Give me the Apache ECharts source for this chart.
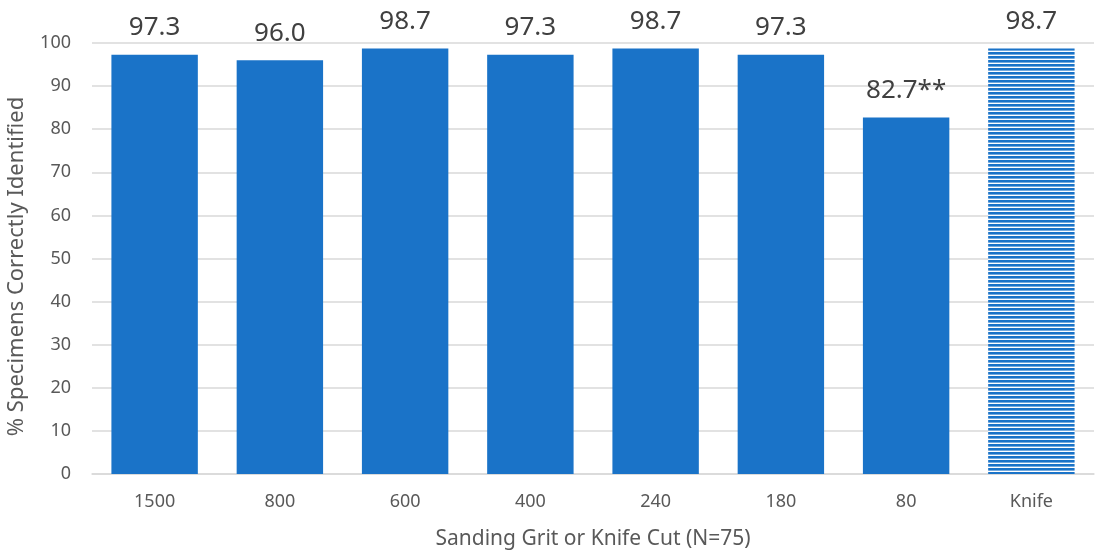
<!DOCTYPE html>
<html>
<head>
<meta charset="utf-8">
<script src="https://cdn.jsdelivr.net/npm/echarts@6/dist/echarts.min.js"></script>
<style>
  html, body { margin: 0; padding: 0; background: #fff; }
  #chart { width: 1095px; height: 554px; }
</style>
</head>
<body>
<div id="chart"></div>
<script>
// Identification rate by sanding grit / knife cut
const categories = ['1500', '800', '600', '400', '240', '180', '80', 'Knife'];
const percentCorrect = [97.3, 96.0, 98.7, 97.3, 98.7, 97.3, 82.7, 98.7];
const labelSuffix = ['', '', '', '', '', '', '**', ''];
const yTicks = { min: 0, max: 100, interval: 10 };

const BLUE = '#1A73C8';
const FONT = '"Noto Sans", "Open Sans", sans-serif';

// Horizontal stripe fill for the knife-cut bar
function stripePattern() {
  const c = document.createElement('canvas');
  c.width = 4; c.height = 4;
  const ctx = c.getContext('2d');
  ctx.fillStyle = '#ffffff';
  ctx.fillRect(0, 0, 4, 4);
  ctx.fillStyle = BLUE;
  ctx.fillRect(0, 0, 4, 2.6);
  return c;
}
const striped = { image: stripePattern(), repeat: 'repeat' };

const chart = echarts.init(document.getElementById('chart'), null, { renderer: 'canvas' });
chart.setOption({
  animation: false,
  grid: { left: 92, right: 1, top: 43, bottom: 80, outerBoundsMode: 'none', containLabel: false },
  xAxis: {
    type: 'category',
    data: categories,
    name: 'Sanding Grit or Knife Cut (N=75)',
    nameLocation: 'middle',
    nameGap: 55,
    nameTextStyle: { fontFamily: FONT, fontSize: 21, color: '#595959' },
    axisLine: { lineStyle: { color: '#d9d9d9', width: 1.5 } },
    axisTick: { show: false },
    axisLabel: { fontFamily: FONT, fontSize: 18, color: '#595959', margin: 19 }
  },
  yAxis: {
    type: 'value',
    min: yTicks.min,
    max: yTicks.max,
    interval: yTicks.interval,
    name: '% Specimens Correctly Identified',
    nameLocation: 'middle',
    nameGap: 64,
    nameTextStyle: { fontFamily: FONT, fontSize: 22, color: '#595959', padding: [0, 16, 0, 0] },
    axisLine: { show: false },
    axisTick: { show: false },
    axisLabel: { fontFamily: FONT, fontSize: 18, color: '#595959', margin: 21 },
    splitLine: { lineStyle: { color: '#d9d9d9', width: 1.5 } }
  },
  series: [{
    type: 'bar',
    barWidth: '69%',
    data: percentCorrect.map((v, i) => ({
      value: v,
      itemStyle: { color: categories[i] === 'Knife' ? striped : BLUE }
    })),
    label: {
      show: true,
      position: 'top',
      distance: 14,
      fontFamily: FONT,
      fontSize: 26,
      color: '#404040',
      formatter: p => p.value.toFixed(1) + labelSuffix[p.dataIndex]
    }
  }]
});
</script>
</body>
</html>
